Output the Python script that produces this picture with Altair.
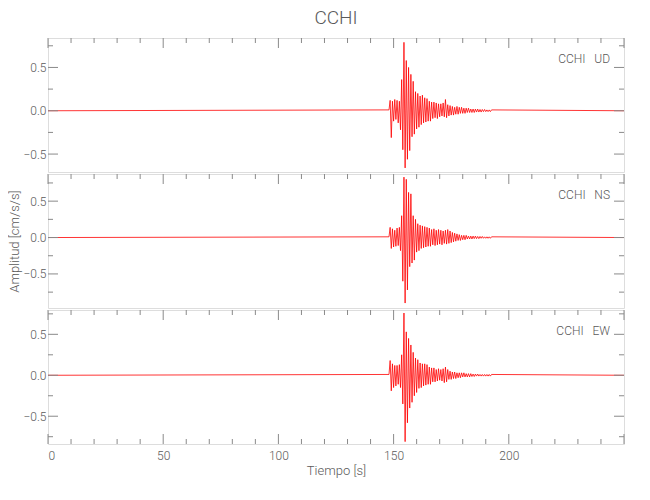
import altair as alt
import pandas as pd

# ---------------- data ----------------
TITLE = "CCHI"
PANEL_LABELS = ["CCHI\u00a0\u00a0\u00a0UD", "CCHI\u00a0\u00a0\u00a0NS", "CCHI\u00a0\u00a0\u00a0EW"]
Y_DOMAINS = [[-0.707, 0.84], [-0.968, 0.873], [-0.839, 0.797]]
X_DOMAIN = [0, 250]
X_LABELS = [0, 50, 100, 150, 200]
X_MAJOR = [0, 50, 100, 150, 200, 250]
X_MINOR = [10, 20, 30, 40, 60, 70, 80, 90, 110, 120, 130, 140, 160, 170, 180, 190, 210, 220, 230, 240]
Y_MAJOR = [-0.5, 0.0, 0.5]
Y_MINOR = [-0.75, -0.25, 0.25, 0.75]

# record: flat before onset, samples every 0.5 s from 148.0 s, flat after coda
T_START = 148.0
T_STEP = 0.5
T_END = 250.0

UD = [0.01, 0.12, -0.31, 0.11, -0.12, 0.13, -0.10, 0.12, -0.14, 0.11,
      -0.22, 0.36, -0.45, 0.79, -0.66, 0.58, -0.56, 0.50, -0.46, 0.42,
      -0.30, 0.34, -0.27, 0.22, -0.21, 0.20, -0.19, 0.17, -0.16, 0.18,
      -0.14, 0.15, -0.13, 0.14, -0.12, 0.11, -0.12, 0.10, -0.09, 0.10,
      -0.08, 0.09, -0.09, 0.08, -0.07, 0.08, -0.06, 0.09, -0.07, 0.13,
      -0.08, 0.07, -0.06, 0.06, -0.05, 0.05, -0.05, 0.04, -0.04, 0.05,
      -0.04, 0.04, -0.03, 0.04, -0.03, 0.03, -0.03, 0.03, -0.02, 0.03,
      -0.02, 0.02, -0.02, 0.02, -0.02, 0.02, -0.015, 0.02, -0.015, 0.015,
      -0.015, 0.015, -0.01, 0.015, -0.01, 0.01, -0.01, 0.01, -0.01, 0.01]

NS = [0.01, 0.14, -0.15, 0.12, -0.13, 0.10, -0.12, 0.13, -0.11, 0.14,
      -0.18, 0.30, -0.60, 0.83, -0.90, 0.80, -0.72, 0.62, -0.40, 0.60,
      -0.35, 0.30, -0.31, 0.25, -0.20, 0.19, -0.18, 0.17, -0.15, 0.16,
      -0.14, 0.15, -0.13, 0.14, -0.12, 0.13, -0.12, 0.11, -0.10, 0.12,
      -0.11, 0.10, -0.10, 0.11, -0.09, 0.10, -0.10, 0.09, -0.08, 0.10,
      -0.09, 0.11, -0.08, 0.09, -0.07, 0.07, -0.06, 0.06, -0.05, 0.05,
      -0.04, 0.04, -0.04, 0.03, -0.03, 0.03, -0.03, 0.03, -0.02, 0.02,
      -0.02, 0.02, -0.02, 0.02, -0.015, 0.02, -0.015, 0.015, -0.015, 0.015,
      -0.01, 0.015, -0.01, 0.01, -0.01, 0.01, -0.01, 0.01, -0.01, 0.01]

EW = [0.01, 0.18, -0.19, 0.14, -0.15, 0.12, -0.13, 0.12, -0.11, 0.13,
      -0.15, 0.25, -0.35, 0.76, -0.81, 0.53, -0.58, 0.45, -0.40, 0.37,
      -0.33, 0.28, -0.25, 0.21, -0.21, 0.19, -0.16, 0.15, -0.15, 0.14,
      -0.13, 0.14, -0.12, 0.13, -0.11, 0.10, -0.11, 0.09, -0.08, 0.09,
      -0.08, 0.07, -0.07, 0.08, -0.06, 0.07, -0.07, 0.08, -0.09, 0.10,
      -0.08, 0.07, -0.05, 0.05, -0.05, 0.04, -0.04, 0.04, -0.04, 0.03,
      -0.03, 0.03, -0.03, 0.03, -0.02, 0.03, -0.02, 0.02, -0.02, 0.02,
      -0.02, 0.02, -0.015, 0.015, -0.015, 0.015, -0.01, 0.015, -0.01, 0.01,
      -0.01, 0.01, -0.01, 0.01, -0.01, 0.01, -0.01, 0.01, -0.01, 0.01]

SERIES = [UD, NS, EW]

# ---------------- style ----------------
FONT = "Roboto, Liberation Sans, sans-serif"
TXT = "#5a5a5a"
AX = "#8a8a8a"
W, H = 576, 134


def panel(idx):
    vals = SERIES[idx]
    ts = [0.0] + [T_START + T_STEP * i for i in range(len(vals))] + [T_END]
    vs = [0.0] + vals + [0.0]
    df = pd.DataFrame({"t": ts, "v": vs})

    xscale = alt.Scale(domain=X_DOMAIN, nice=False, zero=False)
    yscale = alt.Scale(domain=Y_DOMAINS[idx], nice=False, zero=False)

    if idx == 2:
        xaxis = alt.Axis(values=X_LABELS, format="d", ticks=False, domain=False, grid=False,
                         labelPadding=6, labelFontSize=12, labelColor=TXT, labelFont=FONT,
                         labelFontWeight=300,
                         title="Tiempo [s]", titleFont=FONT, titleFontSize=13,
                         titleFontWeight=300, titleColor=TXT, titlePadding=3)
    else:
        xaxis = None

    yaxis = alt.Axis(values=Y_MAJOR, format=".1f", ticks=False, domain=False, grid=False,
                     labelPadding=2, labelFontSize=12, labelColor=TXT, labelFont=FONT,
                     labelFontWeight=300,
                     title=("Amplitud [cm/s/s]" if idx == 1 else ""), titleFont=FONT,
                     titleFontSize=13, titleFontWeight=300, titleColor=TXT,
                     titlePadding=1)

    X = alt.X("t:Q", scale=xscale, axis=xaxis)
    Y = alt.Y("v:Q", scale=yscale, axis=yaxis)

    line = alt.Chart(df).mark_line(color="#ff0000", strokeWidth=0.8).encode(x=X, y=Y)

    lo, hi = Y_DOMAINS[idx]
    ymin = pd.DataFrame({"v": [m for m in Y_MINOR if lo < m < hi]})
    ymaj = pd.DataFrame({"v": Y_MAJOR})
    xmaj = pd.DataFrame({"t": X_MAJOR})
    xmin = pd.DataFrame({"t": X_MINOR})

    layers = [line]
    rule = dict(color=AX, strokeWidth=1)
    # y ticks, left and right, pointing inward
    layers.append(alt.Chart(ymaj).mark_rule(**rule).encode(y=Y, x=alt.value(0), x2=alt.value(10)))
    layers.append(alt.Chart(ymin).mark_rule(**rule).encode(y=Y, x=alt.value(0), x2=alt.value(5)))
    layers.append(alt.Chart(ymaj).mark_rule(**rule).encode(y=Y, x=alt.value(W), x2=alt.value(W - 10)))
    layers.append(alt.Chart(ymin).mark_rule(**rule).encode(y=Y, x=alt.value(W), x2=alt.value(W - 5)))
    # x ticks on top
    layers.append(alt.Chart(xmaj).mark_rule(**rule).encode(x=X, y=alt.value(0), y2=alt.value(10)))
    layers.append(alt.Chart(xmin).mark_rule(**rule).encode(x=X, y=alt.value(0), y2=alt.value(5)))
    if idx == 2:
        layers.append(alt.Chart(xmaj).mark_rule(**rule).encode(x=X, y=alt.value(H), y2=alt.value(H - 10)))
        layers.append(alt.Chart(xmin).mark_rule(**rule).encode(x=X, y=alt.value(H), y2=alt.value(H - 5)))

    lab = pd.DataFrame({"label": [PANEL_LABELS[idx]]})
    layers.append(alt.Chart(lab).mark_text(align="right", baseline="middle", font=FONT,
                                           fontSize=12, fontWeight=300, color=TXT)
                  .encode(x=alt.value(W - 14), y=alt.value(21), text="label:N"))

    ch = alt.layer(*layers).properties(width=W, height=H)
    if idx == 0:
        ch = ch.properties(title=alt.TitleParams(TITLE, font=FONT, fontSize=19, fontWeight=300,
                                                 color=TXT, anchor="middle", frame="group", offset=10))
    return ch


chart = alt.vconcat(panel(0), panel(1), panel(2), spacing=0).properties(
    padding={"left": 0, "top": 0, "right": 0, "bottom": 0}
).configure_view(stroke=AX, strokeWidth=1).configure(background="white")

chart.save("out.html", embed_options={"renderer": "svg", "actions": False})
